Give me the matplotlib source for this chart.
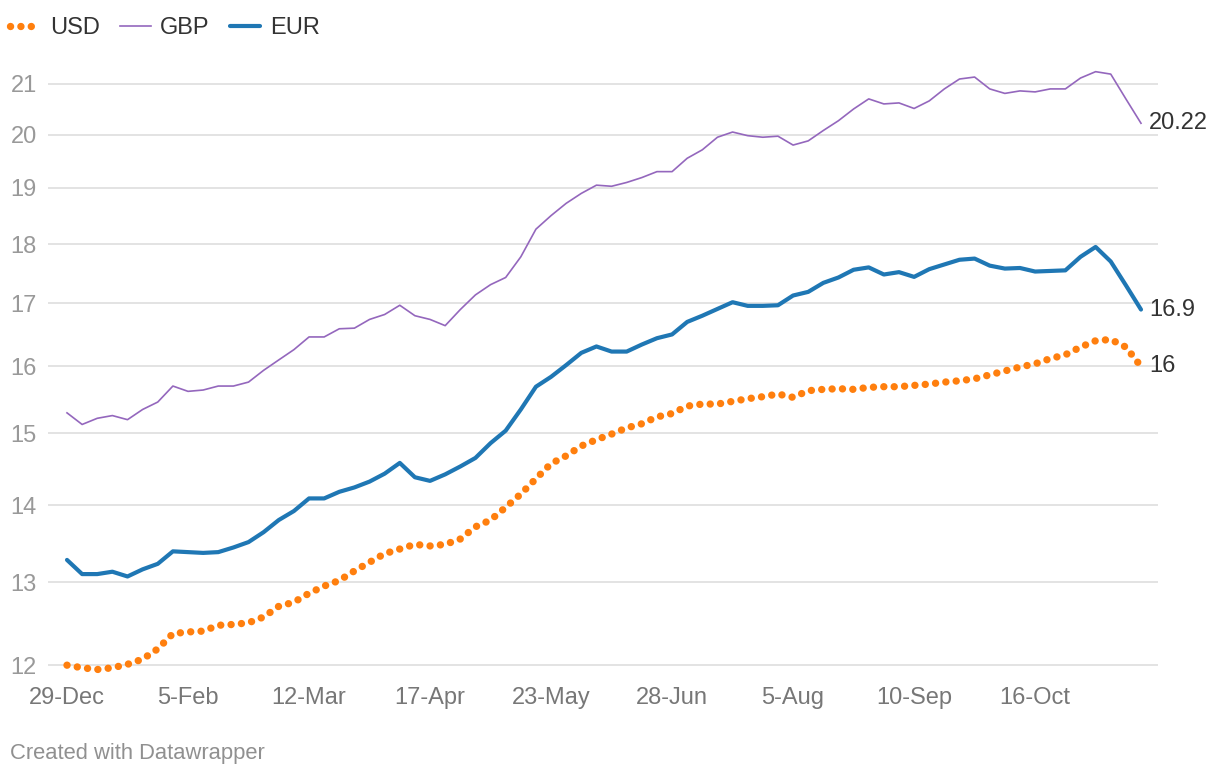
import matplotlib
matplotlib.use('Agg')
import numpy as np
from matplotlib import pyplot as plt
from matplotlib.ticker import FixedLocator, NullLocator

plt.rcParams['font.family'] = ['Liberation Sans', 'DejaVu Sans']

# one reading every ~4.5 days, 8 readings between labelled dates
tick_labels = ['29-Dec', '5-Feb', '12-Mar', '17-Apr', '23-May', '28-Jun', '5-Aug', '10-Sep', '16-Oct']
tick_step = 8

usd = [12.00, 11.97, 11.95, 11.97, 12.01, 12.07, 12.19, 12.37, 12.39, 12.40,
       12.47, 12.48, 12.50, 12.57, 12.70, 12.75, 12.86, 12.95, 13.02, 13.14,
       13.25, 13.36, 13.42, 13.48, 13.46, 13.48, 13.55, 13.71, 13.80, 13.97,
       14.15, 14.36, 14.57, 14.68, 14.82, 14.91, 14.99, 15.08, 15.14, 15.24,
       15.29, 15.40, 15.43, 15.43, 15.47, 15.51, 15.54, 15.58, 15.53, 15.63,
       15.65, 15.66, 15.65, 15.68, 15.69, 15.69, 15.71, 15.73, 15.76, 15.78,
       15.81, 15.87, 15.93, 15.99, 16.04, 16.12, 16.18, 16.30, 16.40, 16.42,
       16.30, 16.00]

gbp = [15.30, 15.13, 15.22, 15.26, 15.20, 15.35, 15.46, 15.70, 15.62, 15.64,
       15.70, 15.70, 15.76, 15.94, 16.10, 16.26, 16.46, 16.46, 16.59, 16.60,
       16.74, 16.82, 16.97, 16.80, 16.74, 16.64, 16.90, 17.14, 17.31, 17.43,
       17.78, 18.26, 18.50, 18.72, 18.90, 19.05, 19.03, 19.10, 19.19, 19.30,
       19.30, 19.55, 19.71, 19.95, 20.05, 19.98, 19.95, 19.97, 19.80, 19.88,
       20.08, 20.27, 20.50, 20.70, 20.60, 20.62, 20.51, 20.66, 20.90, 21.10,
       21.14, 20.90, 20.81, 20.86, 20.84, 20.90, 20.90, 21.12, 21.25, 21.20,
       20.70, 20.22]

eur = [13.28, 13.10, 13.10, 13.13, 13.07, 13.16, 13.23, 13.39, 13.38, 13.37,
       13.38, 13.44, 13.51, 13.64, 13.80, 13.92, 14.09, 14.09, 14.18, 14.24,
       14.32, 14.43, 14.58, 14.38, 14.33, 14.42, 14.53, 14.65, 14.86, 15.04,
       15.35, 15.69, 15.84, 16.02, 16.21, 16.31, 16.23, 16.23, 16.34, 16.44,
       16.50, 16.70, 16.80, 16.91, 17.02, 16.96, 16.96, 16.97, 17.13, 17.19,
       17.34, 17.43, 17.56, 17.60, 17.48, 17.52, 17.44, 17.57, 17.65, 17.73,
       17.75, 17.63, 17.58, 17.59, 17.53, 17.54, 17.55, 17.78, 17.95, 17.70,
       17.30, 16.90]

yticks = [12, 13, 14, 15, 16, 17, 18, 19, 20, 21]

x = np.arange(len(usd))

fig = plt.figure(figsize=(12.2, 7.78), dpi=100)
ax = fig.add_axes([48/1220, 1-680/778, 1110/1220, 620/778])

l_usd, = ax.plot(x, usd, color='#ff7f0e', lw=5.3, linestyle=(0, (0.01, 1.4)),
                 dash_capstyle='round', label='USD', clip_on=False)
l_gbp, = ax.plot(x, gbp, color='#9467bd', lw=1.2, label='GBP', clip_on=False)
l_eur, = ax.plot(x, eur, color='#1f77b4', lw=3, label='EUR', clip_on=False,
                 solid_capstyle='round', solid_joinstyle='round')

ax.set_yscale('log')
ax.set_ylim(11.83, 21.49)
ax.set_xlim(-19/15.125, len(usd) - 1 + 17/15.125)
ax.yaxis.set_major_locator(FixedLocator(yticks))
ax.yaxis.set_minor_locator(NullLocator())
ax.set_yticklabels([str(t) for t in yticks])
ax.set_xticks(x[::tick_step])
ax.set_xticklabels(tick_labels)
ax.grid(True, axis='y', color='#e0e0e0', lw=1.3)
ax.set_axisbelow(True)
for s in ax.spines.values():
    s.set_visible(False)
ax.tick_params(axis='y', length=0, pad=8, labelsize=17, labelcolor='#999999')
ax.tick_params(axis='x', length=0, pad=5, labelsize=17, labelcolor='#777777')

for series in (usd, gbp, eur):
    ax.annotate(f'{series[-1]:g}', xy=(x[-1], series[-1]), xytext=(6, 0),
                textcoords='offset points', va='center', ha='left',
                fontsize=17, color='#333333')

fig.legend(handles=[l_usd, l_gbp, l_eur], loc='center left',
           bbox_to_anchor=(10/1220, 1-28/778), ncol=3, frameon=False,
           fontsize=17, labelcolor='#333333', handlelength=1.3,
           handletextpad=0.4, columnspacing=0.85, borderpad=0, borderaxespad=0)

fig.text(10/1220, 1-754/778, 'Created with Datawrapper', fontsize=15.8,
         color='#909090', va='center', ha='left')

fig.savefig('out.png', dpi=100)
